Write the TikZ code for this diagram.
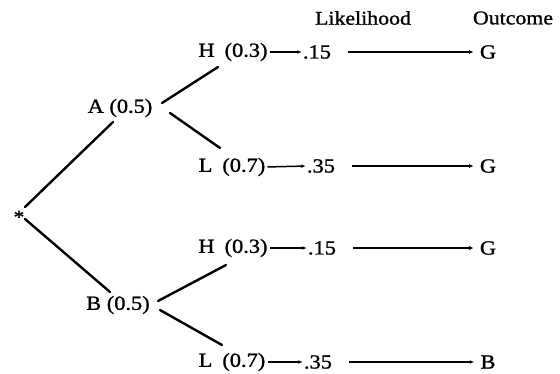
\documentclass[tikz,border=0pt]{standalone}
\usepackage{fontspec}
\setmainfont{Liberation Serif}[FakeStretch=1.12,FakeBold=1.2]
\usetikzlibrary{arrows.meta,calc}
\begin{document}
\begin{tikzpicture}[x=1pt,y=-1pt,
  lbl/.style={inner sep=0pt,font=\fontsize{20}{22}\selectfont},
  hdr/.style={inner sep=0pt,font=\fontsize{19.5}{22}\selectfont},
  branch/.style={line width=2.4pt,line cap=round},
  link/.style={line width=1.5pt,-{Latex[length=4.5pt,width=3.8pt]}}]
\useasboundingbox (0,0) rectangle (560,373);
\node[lbl,font=\fontsize{19}{20}\selectfont] (star) at (19,217) {*};
\node[lbl] (A) at (120,108) {A (0.5)};
\node[lbl] (B) at (118,305) {B (0.5)};
\node[lbl] (H1) at (233,52) {H\hspace{0.5em}(0.3)};
\node[lbl] (L1) at (232,167) {L\hspace{0.5em}(0.7)};
\node[lbl] (H2) at (233,248) {H\hspace{0.5em}(0.3)};
\node[lbl] (L2) at (232,362) {L\hspace{0.5em}(0.7)};
\node[lbl] (p1) at (317,52) {.15};
\node[lbl] (p2) at (321,166) {.35};
\node[lbl] (p3) at (322,248) {.15};
\node[lbl] (p4) at (318,362) {.35};
\node[lbl] (o1) at (488,52) {G};
\node[lbl] (o2) at (488,166) {G};
\node[lbl] (o3) at (488,248) {G};
\node[lbl] (o4) at (488,362) {B};
\node[hdr] (lik) at (363,18) {Likelihood};
\node[hdr] (out) at (513,18) {Outcome};
\draw[branch] ($(star)+(6,-10)$) -- ($(A)+(-7,14)$);
\draw[branch] ($(star)+(6,2)$) -- ($(B)+(-8,-13)$);
\draw[branch] ($(A)+(42,-5)$) -- ($(H1)+(-15,15)$);
\draw[branch] ($(A)+(50,5)$) -- ($(L1)+(-12,-19)$);
\draw[branch] ($(B)+(40,-4)$) -- ($(H2)+(-7,17)$);
\draw[branch] ($(B)+(42,5)$) -- ($(L2)+(-10,-17)$);
\foreach \a/\b in {H1/p1,L1/p2,H2/p3,L2/p4}
  \draw[link,shorten <=2pt,shorten >=1pt] (\a.east) -- (\b.west);
\foreach \a/\b in {p1/o1,p2/o2,p3/o3,p4/o4}
  \draw[link,shorten <=17pt,shorten >=6pt] (\a.east) -- (\b.west);
\end{tikzpicture}
\end{document}
